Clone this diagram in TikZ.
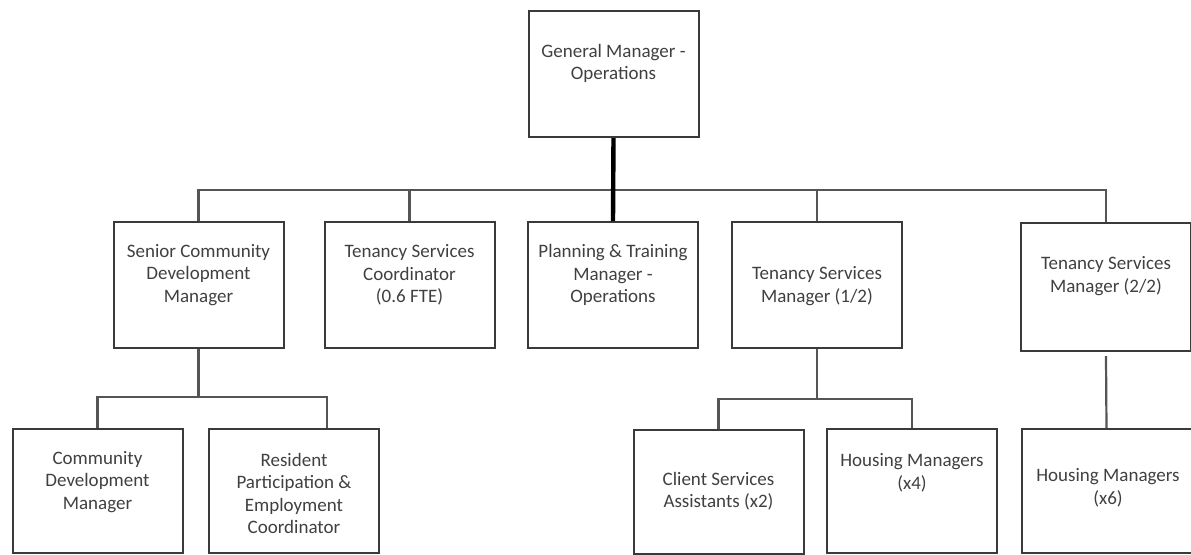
\documentclass[tikz,border=0pt]{standalone}
\usepackage{fontspec}
\setmainfont{Carlito}
\usepackage{tikz}
\definecolor{cline}{HTML}{3a3a3a}
\definecolor{clink}{HTML}{555555}
\definecolor{ctext}{HTML}{404040}

\begin{document}
\begin{tikzpicture}[x=0.5pt,y=-0.5pt,
  post/.style={draw=cline,line width=1pt,minimum width=85pt,minimum height=63pt,inner sep=0pt},
  low/.style={post,minimum height=62pt},
  txt/.style={text=ctext,align=center,inner sep=0pt,font=\fontsize{9.5}{11.25}\selectfont},
  link/.style={draw=clink,line width=1.1pt},
  main/.style={draw=black,line width=2.2pt}]
  \useasboundingbox (0,0) rectangle (1191,554);
  % top
  \node[post] (gm) at (613.5,74) {};
  \node[txt] (gm-t) at (613.5,63.5) {General Manager -\\Operations};
  % second row
  \node[post] (scdm) at (198.5,285) {};
  \node[txt] (scdm-t) at (198.5,275) {Senior Community\\Development\\Manager};
  \node[post] (tsc) at (409.5,285) {};
  \node[txt] (tsc-t) at (409.5,275) {Tenancy Services\\Coordinator\\(0.6 FTE)};
  \node[post] (pt) at (613,285) {};
  \node[txt] (pt-t) at (613,275) {Planning \& Training\\Manager -\\Operations};
  \node[post] (tsm1) at (817,285) {};
  \node[txt] (tsm1-t) at (817,286) {Tenancy Services\\Manager (1/2)};
  \node[post,minimum height=64pt] (tsm2) at (1106,287) {};
  \node[txt] (tsm2-t) at (1106,276) {Tenancy Services\\Manager (2/2)};
  % third row
  \node[low] (cdm) at (97.5,491) {};
  \node[txt] (cdm-t) at (97.5,482) {Community\\Development\\Manager};
  \node[low] (rpec) at (294,491) {};
  \node[txt] (rpec-t) at (294,493.5) {Resident\\Participation \&\\Employment\\Coordinator};
  \node[low] (csa) at (718.5,491.5) {};
  \node[txt] (csa-t) at (718.5,491) {Client Services\\Assistants (x2)};
  \node[low] (hm4) at (912,490.5) {};
  \node[txt] (hm4-t) at (912,473) {Housing Managers\\(x4)};
  \node[low] (hm6) at (1106.5,491) {};
  \node[txt] (hm6-t) at (1108,488) {Housing Managers\\(x6)};
  % connectors
  \coordinate (bus) at (613,190);
  \draw[link] (scdm.north) |- (bus) -| (tsm2.north);
  \draw[link] (tsc.north) -- (tsc.north |- bus);
  \draw[link] (tsm1.north) -- (tsm1.north |- bus);
  \draw[main] (gm.south) -- (pt.north);
  \coordinate (scdm-j) at (198.5,397);
  \draw[link] (scdm.south) -- (scdm-j);
  \draw[link] (cdm.north) |- (scdm-j) -| ([xshift=16.5pt]rpec.north);
  \coordinate (tsm1-j) at (817,399);
  \draw[link] (tsm1.south) -- (tsm1-j);
  \draw[link] (csa.north) |- (tsm1-j) -| (hm4.north);
  \draw[link] ([yshift=-2pt]tsm2.south) -- (hm6.north);
\end{tikzpicture}
\end{document}
